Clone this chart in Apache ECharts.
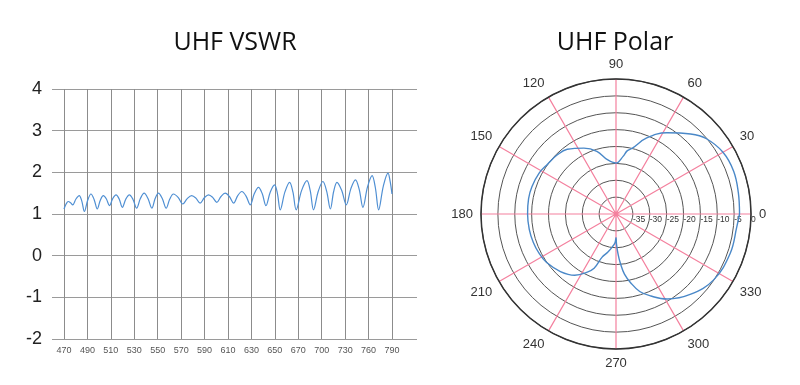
<!DOCTYPE html>
<html>
<head>
<meta charset="utf-8">
<script src="https://cdn.jsdelivr.net/npm/echarts@6/dist/echarts.min.js"></script>
<style>
html,body{margin:0;padding:0;background:#fff;}
#c{width:800px;height:385px;}
</style>
</head>
<body>
<div id="c"></div>
<script>
// ---- VSWR chart data ----
const freqLabels = ['470','490','510','530','550','570','590','610','630','650','670','700','730','760','790'];
const vswrPos = [0,0.09,0.18,0.28,0.37,0.51,0.65,0.76,0.87,1.01,1.15,1.285,1.42,1.55,1.68,1.81,1.94,2.08,2.22,2.355,2.49,2.64,2.79,2.945,3.10,3.26,3.42,3.585,3.75,3.89,4.03,4.195,4.36,4.515,4.67,4.87,5.07,5.26,5.45,5.63,5.81,5.99,6.17,6.345,6.52,6.70,6.88,7.06,7.24,7.415,7.59,7.77,7.95,8.125,8.30,8.46,8.62,8.805,8.99,9.11,9.23,9.43,9.63,9.77,9.91,10.14,10.37,10.51,10.65,10.85,11.05,11.21,11.37,11.51,11.65,11.85,12.05,12.245,12.44,12.60,12.76,12.955,13.15,13.29,13.43,13.63,13.83,13.915,14.0];
const vswrVal = [1.12,1.24,1.30,1.27,1.22,1.36,1.44,1.31,1.06,1.33,1.48,1.35,1.12,1.33,1.44,1.36,1.20,1.37,1.46,1.36,1.16,1.36,1.46,1.35,1.14,1.37,1.50,1.37,1.14,1.37,1.50,1.37,1.14,1.36,1.48,1.40,1.24,1.37,1.44,1.38,1.26,1.39,1.46,1.40,1.28,1.42,1.50,1.42,1.26,1.44,1.54,1.43,1.22,1.49,1.64,1.49,1.20,1.53,1.70,1.49,1.10,1.53,1.76,1.53,1.10,1.56,1.80,1.56,1.10,1.54,1.78,1.55,1.12,1.54,1.76,1.57,1.22,1.61,1.82,1.59,1.16,1.65,1.92,1.63,1.10,1.67,1.98,1.80,1.48];
const vswrTicks = [-2,-1,0,1,2,3,4];

// ---- Polar pattern data ----
const polarAngles = [0,10,20,30,40,47,58,68,76,80,83,90,99,107,116,127,135,144,152,162,170,180,190,199,207,215,226,236,243,248,252,258,264,268,270,271,273,275,278,282,287,293,301,313,326,341,354,360];
const polarDb     = [-3.4,-3.2,-2.9,-3.4,-5.2,-7.6,-11.6,-15.7,-19.9,-21.0,-22.8,-24.9,-23.7,-20.6,-18.3,-16.0,-15.3,-14.9,-14.2,-13.8,-13.7,-13.8,-13.9,-14.1,-14.4,-14.9,-16.3,-18.1,-20.5,-22.7,-26.5,-28.5,-30.3,-31.5,-33.0,-31.0,-28.0,-25.4,-22.0,-19.2,-16.0,-13.6,-10.6,-7.5,-5.1,-4.2,-4.0,-3.4];
const radiusTicks = [-40,-35,-30,-25,-20,-15,-10,-5,0];
const angleTicks = [0,30,60,90,120,150,180,210,240,270,300,330];

const vswrData = vswrPos.map((p,i)=>[p, vswrVal[i]]);
const polarData = polarAngles.map((a,i)=>[polarDb[i], a]);

const chart = echarts.init(document.getElementById('c'));
chart.setOption({
  animation:false,
  backgroundColor:'#fff',
  title:[
    {text:'UHF VSWR', left:230, top:38, textAlign:'center', textVerticalAlign:'middle',
     textStyle:{fontFamily:'Open Sans', fontSize:25, fontWeight:'normal', color:'#111'}},
    {text:'UHF Polar', left:610, top:38, textAlign:'center', textVerticalAlign:'middle',
     textStyle:{fontFamily:'Open Sans', fontSize:25, fontWeight:'normal', color:'#111'}}
  ],
  grid:[
    {left:52, right:383, top:89, bottom:46},
    {left:64, right:408, top:89, bottom:46}
  ],
  xAxis:[
    {gridIndex:0, type:'value', min:0, max:1, show:false},
    {gridIndex:1, type:'value', min:0, max:freqLabels.length-1, interval:1,
     axisLine:{show:false}, axisTick:{show:false},
     splitLine:{show:true, lineStyle:{color:'#8c8c8c', width:1}},
     axisLabel:{fontFamily:'Liberation Sans', fontSize:9, color:'#555', margin:7,
       formatter:v=>freqLabels[Math.round(v)]}}
  ],
  yAxis:[
    {gridIndex:0, type:'value', min:vswrTicks[0], max:vswrTicks[vswrTicks.length-1], interval:1,
     axisLine:{show:false}, axisTick:{show:false},
     splitLine:{show:true, lineStyle:{color:'#9a9a9a', width:1}},
     axisLabel:{fontFamily:'Liberation Sans', fontSize:18, color:'#222', margin:10}},
    {gridIndex:1, type:'value', min:vswrTicks[0], max:vswrTicks[vswrTicks.length-1], interval:1, show:false}
  ],
  polar:{center:[616,214], radius:135},
  angleAxis:{
    type:'value', min:0, max:360, interval:30, startAngle:0, clockwise:false,
    axisLine:{show:true, lineStyle:{color:'#333', width:1.5}},
    axisTick:{show:false},
    splitLine:{show:true, lineStyle:{color:'#f4809e', width:1.2}},
    axisLabel:{fontFamily:'Liberation Sans', fontSize:13, color:'#333', margin:8,
      formatter:v=>(angleTicks.indexOf(v)>=0?String(v):'')}
  },
  radiusAxis:{
    type:'value', min:radiusTicks[0], max:radiusTicks[radiusTicks.length-1], interval:5,
    axisLine:{show:false}, axisTick:{show:false},
    splitLine:{show:true, lineStyle:{color:'#555', width:1}},
    axisLabel:{fontFamily:'Liberation Sans', fontSize:8.5, color:'#333', showMinLabel:false,
      margin:-1, align:'left', verticalAlign:'top'}
  },
  series:[
    {type:'line', xAxisIndex:1, yAxisIndex:1, data:vswrData, smooth:0.35, symbol:'none',
     lineStyle:{color:'#4f8fd3', width:1.2}},
    {type:'line', coordinateSystem:'polar', data:polarData, smooth:0.4, symbol:'none',
     lineStyle:{color:'#4a88c8', width:1.4}}
  ]
});
</script>
</body>
</html>
